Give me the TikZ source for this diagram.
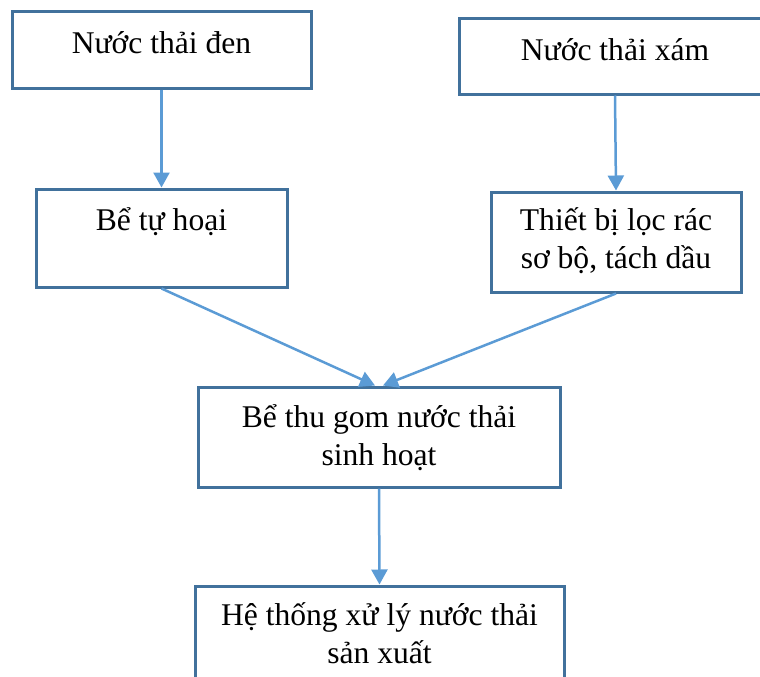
\documentclass[tikz,border=0pt]{standalone}
\usepackage{fontspec}
\setmainfont{Liberation Serif}
\usetikzlibrary{arrows.meta}
\definecolor{boxline}{HTML}{41719C}
\definecolor{arrowline}{HTML}{5B9BD5}
\begin{document}
\begin{tikzpicture}[x=1pt,y=-1pt,
  box/.style={draw=boxline,line width=3pt,rectangle,inner sep=0pt,fill=none},
  lbl/.style={font=\fontsize{31.6}{38}\selectfont,anchor=base,inner sep=0pt,align=center},
  flow/.style={draw=arrowline,line width=2.5pt,-{Triangle[length=15pt,width=16pt]}}]
\useasboundingbox (0,0) rectangle (760,677);
% boxes
\node[box,minimum width=299pt,minimum height=76pt] (b1) at (161.5,50) {};
\node[box,minimum width=312pt,minimum height=75pt] (b2) at (615,56.5) {};
\node[box,minimum width=251pt,minimum height=98pt] (b3) at (161.5,238) {};
\node[box,minimum width=250pt,minimum height=100pt] (b4) at (616,242) {};
\node[box,minimum width=362pt,minimum height=100pt] (b5) at (379,437) {};
\node[box,minimum width=369pt,minimum height=100pt] (b6) at (379.5,636) {};
% texts
\node[lbl] (t1) at (161.5,53) {Nước thải đen};
\node[lbl] (t2) at (615,61) {Nước thải xám};
\node[lbl] (t3) at (161.5,230) {Bể tự hoại};
\node[lbl] (t4) at (616,268) {Thiết bị lọc rác\\sơ bộ, tách dầu};
\node[lbl] (t5) at (379,465) {Bể thu gom nước thải\\sinh hoạt};
\node[lbl] (t6) at (379.5,663) {Hệ thống xử lý nước thải\\sản xuất};
% connectors
\draw[flow] (b1.south) -- (b3.north);
\draw[flow] (b2.south) -- ([xshift=1pt]b2.south |- b4.north);
\draw[flow] (b3.south) -- ([xshift=-4pt]b5.north);
\draw[flow] (b4.south) -- ([xshift=4pt]b5.north);
\draw[flow] (b5.south) -- (b6.north);
\end{tikzpicture}
\end{document}
